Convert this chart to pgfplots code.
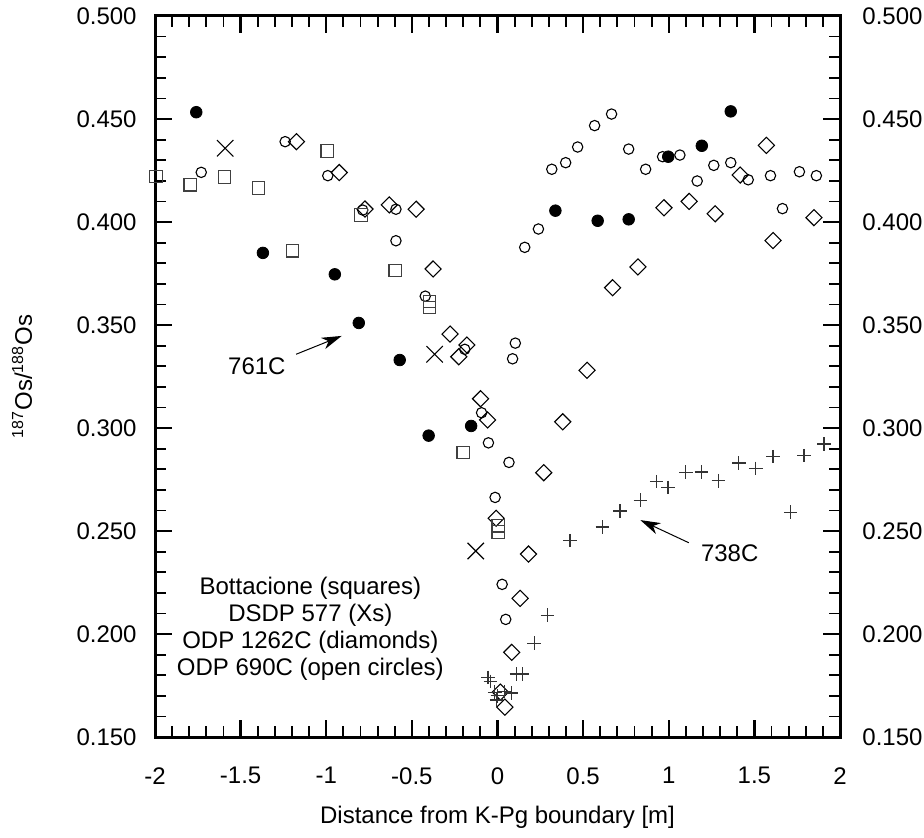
\documentclass[border=0pt]{standalone}
\usepackage{fontspec}
\setmainfont{Liberation Sans}
\usepackage{pgfplots}
\pgfplotsset{compat=1.18}
\usetikzlibrary{arrows.meta}
\begin{document}
\fontsize{12}{14.4}\selectfont
\begin{tikzpicture}
\pgfplotsset{
  common/.style={
    scale only axis, width=342.5pt, height=360.5pt,
    xmin=-2, xmax=2, ymin=0.15, ymax=0.5,
    ytick={0.15,0.2,0.25,0.3,0.35,0.4,0.45,0.5},
    yticklabels={0.150,0.200,0.250,0.300,0.350,0.400,0.450,0.500},
    tick label style={font=\fontsize{12}{14.4}\selectfont},
    label style={font=\fontsize{12}{14.4}\selectfont},
  }
}
\begin{axis}[common,
  clip=false,
  xtick={-2,-1.5,-1,-0.5,0,0.5,1,1.5,2},
  xticklabels={-2,-1.5,-1,-0.5,0,0.5,1,1.5,2},
  minor x tick num=4, minor y tick num=4,
  tick align=inside,
  major tick length=8.5pt, minor tick length=5.5pt,
  major tick style={line width=1.2pt, black},
  minor tick style={line width=0.9pt, black},
  axis line style={line width=1.5pt},
  yticklabel style={xshift=-5pt},
  xticklabel style={yshift=-11pt},
  xlabel={Distance from K-Pg boundary [m]},
  ylabel={\textsuperscript{187}Os/\textsuperscript{188}Os},
  xlabel style={at={(axis description cs:0.5,-0.111)}, anchor=center},
  ylabel style={at={(axis description cs:-0.194,0.5)}, anchor=center},
]
% ODP 690C open circles
\addplot[only marks, mark=o, mark size=2.6pt, mark options={line width=0.55pt, black}] coordinates {
(-1.730,0.4241) (-1.240,0.439) (-0.991,0.4225) (-0.787,0.4058) (-0.593,0.4062)
(-0.593,0.3909) (-0.422,0.364) (-0.191,0.3382) (-0.093,0.3074) (-0.053,0.2928)
(0.067,0.2833) (-0.014,0.2663) (0.104,0.3412) (0.088,0.3336) (0.027,0.2241)
(0.048,0.2071) (0.159,0.3877) (0.239,0.3966) (0.317,0.4256) (0.398,0.4288)
(0.468,0.4364) (0.567,0.4468) (0.666,0.4524) (0.766,0.4354) (0.865,0.4256)
(0.964,0.4317) (1.065,0.4325) (1.166,0.4199) (1.263,0.4275) (1.362,0.4288)
(1.464,0.4205) (1.594,0.4225) (1.664,0.4065) (1.763,0.4244) (1.862,0.4225)
};
% ODP 1262C diamonds
\addplot[only marks, mark=square, mark size=2.85pt, mark options={rotate=45, line width=0.55pt, black}] coordinates {
(-1.174,0.439) (-0.924,0.424) (-0.774,0.4063) (-0.632,0.4083) (-0.475,0.4062)
(-0.376,0.3772) (-0.277,0.3456) (-0.179,0.3403) (-0.226,0.3346) (-0.099,0.3142)
(-0.058,0.3039) (-0.008,0.2562) (0.132,0.2173) (0.181,0.2388) (0.270,0.2783)
(0.381,0.303) (0.523,0.328) (0.083,0.1911) (0.017,0.1718) (0.043,0.1645)
(0.672,0.3681) (0.820,0.3782) (0.972,0.4069) (1.119,0.41) (1.271,0.404)
(1.417,0.4228) (1.570,0.4372) (1.609,0.391) (1.848,0.4021)
};
% Bottacione squares
\addplot[only marks, mark=square, mark size=3.1pt, mark options={line width=0.6pt, black!75}] coordinates {
(-1.994,0.422) (-1.794,0.4181) (-1.594,0.4218) (-1.396,0.4165) (-0.995,0.4345)
(-1.198,0.386) (-0.797,0.4034) (-0.597,0.3764) (-0.397,0.3615) (-0.397,0.3585)
(-0.2,0.2882) (0.004,0.2525) (0.004,0.2495)
};
% DSDP 577 Xs
\addplot[only marks, mark=x, mark size=5.8pt, mark options={line width=0.55pt, black}] coordinates {
(-1.590,0.4358) (-0.367,0.3358) (-0.127,0.2403)
};
% 738C pluses
\addplot[only marks, mark=+, mark size=3.4pt, mark options={line width=0.6pt, black!80}] coordinates {
(1.907,0.2922) (1.790,0.2866) (1.609,0.2861) (1.508,0.2804) (1.409,0.2830)
(1.290,0.2744) (1.191,0.2786) (1.100,0.2785) (0.995,0.2712) (0.929,0.2740)
(0.834,0.2650) (0.715,0.2597) (0.612,0.2519) (0.423,0.2453) (1.712,0.2591)
(0.292,0.2091) (0.214,0.1955) (0.146,0.1806) (0.111,0.1806) (-0.055,0.1789)
(-0.041,0.177) (-0.016,0.1718) (0.0,0.170) (-0.005,0.168) (0.04,0.172)
(0.082,0.1714)
};
% 761C filled circles
\addplot[only marks, mark=*, mark size=2.9pt, mark options={black, fill=black}] coordinates {
(-1.759,0.4533) (-1.370,0.385) (-0.950,0.3746) (-0.810,0.351) (-0.571,0.333)
(-0.402,0.2963) (-0.154,0.301) (0.338,0.4055) (0.585,0.4006) (0.766,0.4013)
(0.997,0.4317) (1.193,0.437) (1.362,0.4537)
};
\node at (axis cs:-1.405,0.3302) {761C};
\draw[line width=0.5pt, -{Stealth[length=10pt, width=6pt, inset=3pt]}] (axis cs:-1.176,0.3358) -- (axis cs:-0.91,0.3447);
\node at (axis cs:1.356,0.2392) {738C};
\draw[line width=0.5pt, -{Stealth[length=10pt, width=6pt, inset=3pt]}] (axis cs:1.117,0.2443) -- (axis cs:0.834,0.2553);
\node[align=center, font=\fontsize{12}{13.5}\selectfont] at (axis cs:-1.093,0.2027)
  {Bottacione (squares)\\DSDP 577 (Xs)\\ODP 1262C (diamonds)\\ODP 690C (open circles)};
\end{axis}
\begin{axis}[common,
  xtick=\empty,
  ytick pos=right, yticklabel pos=right,
  axis line style={draw=none}, major tick style={draw=none},
  yticklabel style={xshift=7pt},
]
\end{axis}
\pgfresetboundingbox
\path ([xshift=-77.5pt,yshift=-50pt]current axis.south west) rectangle ([xshift=42pt,yshift=8pt]current axis.north east);
\end{tikzpicture}
\end{document}
